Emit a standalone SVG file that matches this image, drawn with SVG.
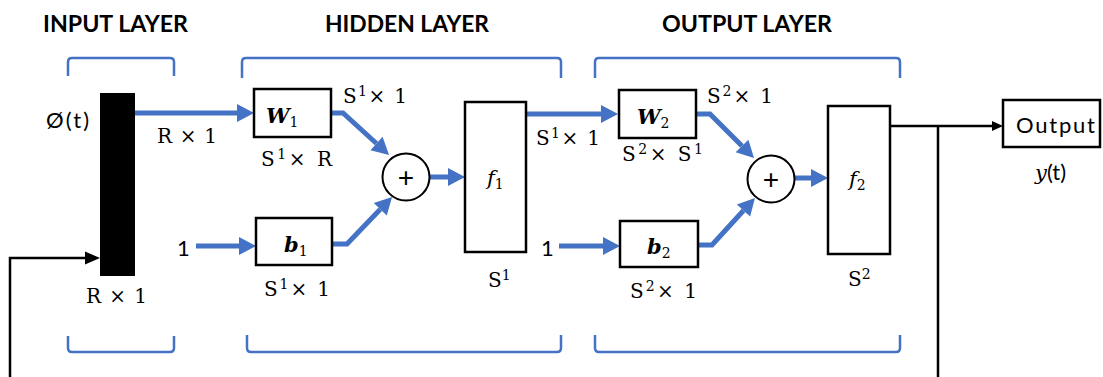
<svg xmlns="http://www.w3.org/2000/svg" width="1103" height="377" viewBox="0 0 1103 377">
<style>
.title{font-family:Lato,"Liberation Sans",sans-serif;font-weight:bold;font-size:22px;fill:#000}
.br{fill:none;stroke:#4472C4;stroke-width:2.5;stroke-linejoin:round}
.box{fill:#fff;stroke:#000;stroke-width:2.5}
.blue{fill:none;stroke:#4472C4;stroke-width:5;stroke-linejoin:miter}
.blk{fill:none;stroke:#000;stroke-width:2.5}
.m{font-family:"DejaVu Serif","Liberation Serif",serif;font-size:20px;fill:#000}
.sup{font-size:14px}
.s{font-family:Lato,"Open Sans","Liberation Sans",sans-serif;font-size:22px;fill:#000}
.v{font-family:"DejaVu Serif","Liberation Serif",serif;font-size:21px;font-style:italic;font-weight:bold;fill:#000}
.sub{font-family:"DejaVu Serif","Liberation Serif",serif;font-size:14px;font-style:normal;font-weight:normal}
.fi{font-family:"DejaVu Serif","Liberation Serif",serif;font-size:21px;font-style:italic;fill:#000}
.plus{font-family:"Liberation Sans",sans-serif;font-size:28px;fill:#000;text-anchor:middle}
</style>
<defs>
<marker id="ab" markerUnits="userSpaceOnUse" markerWidth="18" markerHeight="20" refX="0" refY="9" orient="auto" overflow="visible">
<path d="M0,0 L17,9 L0,18 Z" fill="#4472C4"/>
</marker>
<marker id="ak" markerUnits="userSpaceOnUse" markerWidth="16" markerHeight="14" refX="0" refY="6.5" orient="auto" overflow="visible">
<path d="M0,0 L15,6.5 L0,13 Z" fill="#000"/>
</marker>
<marker id="ak2" markerUnits="userSpaceOnUse" markerWidth="12" markerHeight="12" refX="0" refY="5" orient="auto" overflow="visible">
<path d="M0,0 L11,5 L0,10 Z" fill="#000"/>
</marker>
</defs>
<rect width="1103" height="377" fill="#fff"/>

<g id="titles">
<text class="title" x="43" y="32" textLength="145" lengthAdjust="spacingAndGlyphs">INPUT LAYER</text>
<text class="title" x="325" y="32" textLength="164" lengthAdjust="spacingAndGlyphs">HIDDEN LAYER</text>
<text class="title" x="662" y="32" textLength="170" lengthAdjust="spacingAndGlyphs">OUTPUT LAYER</text>
</g>

<g id="brackets">
<path class="br" d="M68,76 V62 Q68,58 72,58 H170 Q174,58 174,62 V76"/>
<path class="br" d="M242,78 V62 Q242,58 246,58 H557 Q561,58 561,62 V78"/>
<path class="br" d="M595,78 V62 Q595,58 599,58 H896 Q900,58 900,62 V78"/>
<path class="br" d="M68,336 V348 Q68,352 72,352 H170 Q174,352 174,348 V336"/>
<path class="br" d="M247,335 V348 Q247,352 251,352 H557 Q561,352 561,348 V335"/>
<path class="br" d="M595,335 V348 Q595,352 599,352 H896 Q900,352 900,348 V335"/>
</g>

<g id="connectors">
<path class="blue" d="M135,113 H237" marker-end="url(#ab)"/>
<path class="blue" d="M196,246 H239" marker-end="url(#ab)"/>
<path class="blue" d="M331,113 H343 L376.5,143.5" marker-end="url(#ab)"/>
<path class="blue" d="M332,244 H347 L380.3,209.3" marker-end="url(#ab)"/>
<path class="blue" d="M429.5,177 H448" marker-end="url(#ab)"/>
<path class="blue" d="M526,114 H601" marker-end="url(#ab)"/>
<path class="blue" d="M559,246 H603" marker-end="url(#ab)"/>
<path class="blue" d="M696,114 H710 L742,146" marker-end="url(#ab)"/>
<path class="blue" d="M698,245 H712 L743.5,210.5" marker-end="url(#ab)"/>
<path class="blue" d="M794.5,178 H811" marker-end="url(#ab)"/>
<path class="blk" d="M890,126 H992" marker-end="url(#ak2)"/>
<path class="blk" d="M938,126 V378.2 H10 V258 H85" marker-end="url(#ak)"/>
</g>

<g id="input-bar">
<rect x="100" y="93" width="35" height="183" fill="#000"/>
</g>

<g id="W1">
<rect class="box" x="254" y="89" width="77" height="48"/>
<text class="v" x="266" y="123">W<tspan class="sub" dy="4">1</tspan></text>
</g>
<g id="b1">
<rect class="box" x="256" y="218" width="76" height="47"/>
<text class="v" x="284" y="252">b<tspan class="sub" dy="4">1</tspan></text>
</g>
<g id="sum1">
<circle cx="406" cy="177" r="23.5" fill="#fff" stroke="#000" stroke-width="2"/>
<text class="plus" x="406" y="187">+</text>
</g>
<g id="f1">
<rect class="box" x="465" y="102" width="61" height="150"/>
<text class="fi" x="487" y="185">f<tspan class="sub" dy="4">1</tspan></text>
</g>
<g id="W2">
<rect class="box" x="619" y="90" width="77" height="48"/>
<text class="v" x="637" y="124">W<tspan class="sub" dy="4">2</tspan></text>
</g>
<g id="b2">
<rect class="box" x="620" y="221" width="78" height="46"/>
<text class="v" x="647" y="254">b<tspan class="sub" dy="4">2</tspan></text>
</g>
<g id="sum2">
<circle cx="771" cy="179" r="23.5" fill="#fff" stroke="#000" stroke-width="2"/>
<text class="plus" x="771" y="189">+</text>
</g>
<g id="f2">
<rect class="box" x="828" y="106" width="62" height="148"/>
<text class="fi" x="849" y="186">f<tspan class="sub" dy="4">2</tspan></text>
</g>
<g id="output">
<rect class="box" x="1003" y="100" width="97" height="47"/>
<text class="s" x="1016" y="133" textLength="79">Output</text>
</g>

<g id="labels">
<text class="s" x="46" y="128" textLength="43">Ø(t)</text>
<text class="m" x="157" y="143" textLength="60">R × 1</text>
<text class="m" x="261" y="166" textLength="71">S<tspan class="sup" dy="-7">1</tspan><tspan dy="7">× R</tspan></text>
<text class="m" x="343" y="103" textLength="64">S<tspan class="sup" dy="-7">1</tspan><tspan dy="7">× 1</tspan></text>
<text class="s" x="177" y="256">1</text>
<text class="m" x="264" y="296" textLength="66">S<tspan class="sup" dy="-7">1</tspan><tspan dy="7">× 1</tspan></text>
<text class="m" x="86" y="303" textLength="61">R × 1</text>
<text class="m" x="488" y="287">S<tspan class="sup" dy="-7">1</tspan></text>
<text class="m" x="536" y="145" textLength="64">S<tspan class="sup" dy="-7">1</tspan><tspan dy="7">× 1</tspan></text>
<text class="m" x="622" y="161" textLength="81">S<tspan class="sup" dy="-7">2</tspan><tspan dy="7">× S</tspan><tspan class="sup" dy="-7">1</tspan></text>
<text class="m" x="707" y="103" textLength="66">S<tspan class="sup" dy="-7">2</tspan><tspan dy="7">× 1</tspan></text>
<text class="s" x="541" y="256">1</text>
<text class="m" x="630" y="298" textLength="67">S<tspan class="sup" dy="-7">2</tspan><tspan dy="7">× 1</tspan></text>
<text class="m" x="848" y="286">S<tspan class="sup" dy="-7">2</tspan></text>
<text x="1035" y="180" font-size="22"><tspan class="fi" font-size="22">y</tspan><tspan class="s">(t)</tspan></text>
</g>
</svg>
